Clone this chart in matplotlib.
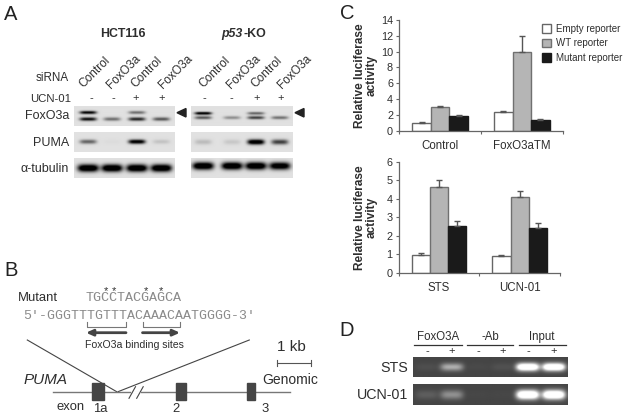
"""Four panel figure: western blots, PUMA promoter map, luciferase bars, ChIP gel."""
import matplotlib

matplotlib.use("Agg")

import matplotlib.pyplot as plt
import matplotlib.patches as patches
import numpy as np

plt.rcParams["font.family"] = ["Liberation Sans", "DejaVu Sans"]

W, H = 626, 417
TEXT = "#2e2e2e"

# Panel C data
top_groups = ["Control", "FoxO3aTM"]
top_empty = [1.0, 2.4]
top_wt = [2.95, 10.0]
top_mutant = [1.8, 1.35]
top_empty_err = [0.05, 0.1]
top_wt_err = [0.15, 2.0]
top_mutant_err = [0.2, 0.15]

bottom_groups = ["STS", "UCN-01"]
bottom_empty = [0.95, 0.92]
bottom_wt = [4.65, 4.1]
bottom_mutant = [2.55, 2.4]
bottom_empty_err = [0.1, 0.03]
bottom_wt_err = [0.35, 0.3]
bottom_mutant_err = [0.25, 0.3]

legend_labels = ["Empty reporter", "WT reporter", "Mutant reporter"]

# Panel A lanes and band strengths (0-1)
sirna_labels = ["Control", "FoxO3a", "Control", "FoxO3a"]
ucn_marks = ["-", "-", "+", "+"]
blot_rows = ["FoxO3a", "PUMA", "α-tubulin"]
foxo_upper_l = [0.9, 0.0, 0.45, 0.0]
foxo_lower_l = [0.85, 0.45, 0.75, 0.55]
puma_l = [0.5, 0.02, 1.0, 0.12]
tub_l = [1.2, 1.2, 1.2, 1.2]
foxo_upper_r = [1.0, 0.0, 0.5, 0.0]
foxo_lower_r = [0.55, 0.33, 0.65, 0.45]
puma_r = [0.15, 0.1, 1.1, 0.65]
tub_r = [1.2, 1.2, 1.2, 1.1]

# Panel D lanes and band strengths
chip_marks = ["-", "+", "-", "+", "-", "+"]
chip_sts = [0.04, 0.42, 0.02, 0.05, 1.1, 1.1]
chip_ucn = [0.1, 0.3, 0.01, 0.01, 1.1, 1.1]

# Panel B text
mutant_seq = "TGCCTACGAGCA"
wt_seq = "5'-GGGTTTGTTTACAAACAATGGGG-3'"
exon_names = ["1a", "2", "3"]


def blot(ax, x0, x1, y0, y1, lanes, rows, bg, sign, wx=8.5):
    """Paint one blot strip. rows is a list of (y position, band strengths, half height)."""
    xs = np.linspace(x0, x1, int((x1 - x0) * 2))
    ys = np.linspace(y0, y1, int((y1 - y0) * 2))
    xx, yy = np.meshgrid(xs, ys)
    img = np.zeros_like(xx)
    for y_c, strengths, wy in rows:
        for x_c, s in zip(lanes, strengths):
            img += s * np.exp(-(((xx - x_c) / wx) ** 4)) * np.exp(-(((yy - y_c) / wy) ** 2))
    img = np.clip(bg + sign * img, 0, 1)
    ax.imshow(img, extent=(x0, x1, y1, y0), cmap="gray", vmin=0, vmax=1, aspect="auto",
              interpolation="bilinear", zorder=1)


def bars(rect, groups, vals, errs, ymax, step):
    ax = fig.add_axes([rect[0] / W, 1 - rect[3] / H, (rect[1] - rect[0]) / W, (rect[3] - rect[2]) / H])
    width = 0.226
    x = np.arange(1, 3)
    colors = ["white", "#b5b5b5", "#1a1a1a"]
    edges = ["#666666", "#707070", "#1a1a1a"]
    handles = []
    for i in range(3):
        b = ax.bar(x + (i - 1) * width, vals[i], width, color=colors[i], edgecolor=edges[i], linewidth=1,
                   yerr=[[0, 0], errs[i]], ecolor="#555555",
                   error_kw={"capsize": 2.2, "elinewidth": 1, "capthick": 1})
        handles.append(b)
    ax.set_xlim(0.5, 2.5)
    ax.set_ylim(0, ymax)
    ax.set_yticks(np.arange(0, ymax + 1, step))
    ax.set_xticks([0.5, 1.5, 2.5], labels=[])
    ax.set_xticks([1, 2], labels=groups, minor=True)
    ax.tick_params(axis="x", which="major", length=2.5, width=0.8, color="#666666")
    ax.tick_params(axis="x", which="minor", length=0, labelsize=8.3, labelcolor=TEXT, pad=7)
    ax.tick_params(axis="y", length=2.5, width=0.8, color="#666666", labelsize=7.8, labelcolor=TEXT, pad=2)
    for s in ("top", "right"):
        ax.spines[s].set_visible(False)
    for s in ("left", "bottom"):
        ax.spines[s].set_color("#666666")
        ax.spines[s].set_linewidth(0.9)
    ax.patch.set_alpha(0)
    ax.set_ylabel("Relative luciferase\nactivity", fontsize=8.6, fontweight="bold", color=TEXT, linespacing=1.05)
    ax.yaxis.set_label_coords((378 - rect[0]) / (rect[1] - rect[0]), 0.5)
    return ax, handles


fig = plt.figure(figsize=(W / 100, H / 100), dpi=100)

# Pixel-coordinate layer for the non-chart panels
px = fig.add_axes([0, 0, 1, 1])
px.axis("off")


def label(x, y, s, size=8.3, ha="center", va="center", **kw):
    kw.setdefault("color", TEXT)
    px.text(x, y, s, fontsize=size, ha=ha, va=va, **kw)


for letter, x, y in [("A", 11, 14), ("B", 11, 271), ("C", 347, 13), ("D", 347, 330)]:
    label(x, y, letter, size=14.5, color="#222222")

# Panel A
lanes_l = [88, 112, 137, 161.5]
lanes_r = [203, 232, 256, 280]
blot(px, 74, 175, 106.7, 126, lanes_l, [(112.9, foxo_upper_l, 1.6), (119.4, foxo_lower_l, 1.8)], 0.88, -1)
blot(px, 191, 293, 106.7, 126, lanes_r, [(113.7, foxo_upper_r, 1.4), (118, foxo_lower_r, 1.6)], 0.88, -1)
blot(px, 74, 175, 132, 152, lanes_l, [(141.7, puma_l, 2.2)], 0.88, -1)
blot(px, 191, 293, 132, 152, lanes_r, [(142, puma_r, 2.6)], 0.88, -1)
blot(px, 74, 175, 159, 178, lanes_l, [(168.6, tub_l, 3.6)], 0.88, -1, wx=10.5)
blot(px, 191, 293, 159, 178, lanes_r, [(166.5, tub_r, 3.6)], 0.88, -1, wx=10.5)

label(123, 34, "HCT116", size=8.9, fontweight="bold")
label(243, 34, "p53", size=8.9, fontweight="bold", fontstyle="italic", ha="right")
label(243, 34, "-KO", size=8.9, fontweight="bold", ha="left")
label(69, 78, "siRNA", size=8.4, ha="right")
label(71, 98.5, "UCN-01", size=8.2, ha="right")
for name, y in zip(blot_rows, [116, 142.5, 169]):
    label(69, y, name, size=9, ha="right")

sirna_x = [94.5, 124, 146.5, 176, 215, 244, 267, 295]
for x, name in zip(sirna_x, sirna_labels * 2):
    label(x, 72, name, size=8.6, rotation=45)
mark_x = [91.5, 113, 135.7, 162, 204, 231.7, 256.7, 280.7]
for x, m in zip(mark_x, ucn_marks * 2):
    label(x, 98, m, size=8)

for tip in (177, 295):
    px.add_patch(patches.Polygon([(tip, 112.7), (tip + 9, 108.5), (tip + 9, 117)], color="#222222", zorder=3))

# Panel B
label(18.3, 298, "Mutant", size=9.4, ha="left")
label(86, 298, mutant_seq, size=9.6, ha="left", family="Liberation Mono", color="#8a8a8a")
label(23, 315.7, wt_seq, size=9.5, ha="left", family="Liberation Mono", color="#8a8a8a")
for x in (105.7, 114, 145.7, 161.3):
    label(x, 294.5, "*", size=8, va="baseline", color="#333333")
for x0, x1 in [(86.7, 125.7), (142.7, 180)]:
    px.plot([x0, x0, x1, x1], [321.7, 327.3, 327.3, 321.7], color="#777777", lw=0.8)
px.annotate("", xy=(86, 332.7), xytext=(126, 332.7),
            arrowprops=dict(arrowstyle="-|>,head_width=0.18,head_length=0.4", color="#444444", lw=2, shrinkA=0, shrinkB=0))
px.annotate("", xy=(180, 332.7), xytext=(142.5, 332.7),
            arrowprops=dict(arrowstyle="-|>,head_width=0.18,head_length=0.4", color="#444444", lw=2, shrinkA=0, shrinkB=0))
label(134, 345, "FoxO3a binding sites", size=7.6)
px.plot([27.3, 116.7], [340, 391.7], color="#444444", lw=0.8)
px.plot([249.3, 118], [340, 391.7], color="#444444", lw=0.8)
label(291, 347, "1 kb", size=11)
px.plot([277, 310.7], [362.7, 362.7], color="#555555", lw=0.8)
for x in (277, 310.7):
    px.plot([x, x], [359.7, 365.7], color="#555555", lw=0.8)
label(24, 380, "PUMA", size=11, ha="left", fontstyle="italic")
label(317.7, 380.5, "Genomic", size=10, ha="right")
px.plot([52.7, 290], [391.7, 391.7], color="#777777", lw=1)
px.plot([131.5, 139], [391.7, 391.7], color="white", lw=2, zorder=2)
for x in (129, 136.7):
    px.plot([x, x + 6.5], [398.3, 386.7], color="#444444", lw=0.8, zorder=3)
for x0, x1 in [(92, 104), (175.7, 186), (247.3, 255.3)]:
    px.add_patch(patches.Rectangle((x0, 383.3), x1 - x0, 16.7, color="#454545", zorder=3))
label(56.7, 407.5, "exon", size=9.4, ha="left")
for x, name in zip((100, 175.7, 265), exon_names):
    label(x, 408.5, name, size=9.4)

# Panel D
chip_lanes = [427, 452, 478, 503, 528, 554]
blot(px, 413.3, 568, 356.7, 376.7, chip_lanes, [(366.7, chip_sts, 4.0)], 0.27, 1, wx=11.5)
blot(px, 413.3, 568, 384.3, 404.7, chip_lanes, [(394.7, chip_ucn, 4.6)], 0.27, 1, wx=11.5)
for name, x, x0, x1 in [("FoxO3A", 438.3, 414, 461.7), ("-Ab", 490, 466.7, 513.3), ("Input", 542, 519, 565.7)]:
    label(x, 337, name, size=8.3)
    px.plot([x0, x1], [345, 345], color="#333333", lw=0.9)
for x, m in zip(chip_lanes, chip_marks):
    label(x, 351, m, size=8)
label(408.3, 367.7, "STS", size=10.3, ha="right")
label(408.3, 395.3, "UCN-01", size=10.3, ha="right")

px.set_xlim(0, W)
px.set_ylim(H, 0)

# Panel C
top_ax, handles = bars((399.3, 562.7, 20, 130.7), top_groups,
                       [top_empty, top_wt, top_mutant], [top_empty_err, top_wt_err, top_mutant_err], 14, 2)
bars((398.7, 560, 161.7, 272.7), bottom_groups,
     [bottom_empty, bottom_wt, bottom_mutant], [bottom_empty_err, bottom_wt_err, bottom_mutant_err], 6, 1)

fig.legend(handles, legend_labels, loc="upper left", bbox_to_anchor=(541.5 / W, 1 - 24 / H), frameon=False,
           fontsize=7, labelcolor=TEXT, handlelength=1.0, handleheight=1.0, handletextpad=0.5,
           labelspacing=0.45, borderpad=0, borderaxespad=0)

fig.savefig("out.png", dpi=100)
